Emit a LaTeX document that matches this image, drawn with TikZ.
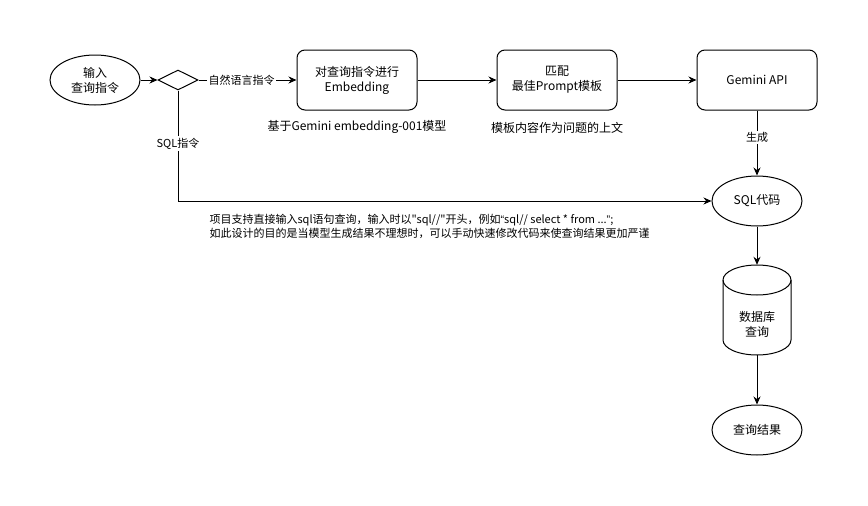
\documentclass[tikz,border=0pt]{standalone}
\usepackage{fontspec}
\newfontfamily\cjkf{Noto Sans CJK SC}
\newfontfamily\latf{Liberation Sans}
\usetikzlibrary{shapes.geometric,arrows.meta}
\begin{document}
\begin{tikzpicture}[x=1pt,y=-1pt,
  every node/.style={font=\cjkf\fontsize{12}{15}\selectfont},
  box/.style={draw, rounded corners=8pt, minimum width=120pt, minimum height=60pt, align=center, line width=1pt},
  oval/.style={draw, ellipse, minimum width=90pt, minimum height=50pt, inner sep=0pt, align=center, line width=1pt},
  lbl/.style={fill=white, font=\cjkf\fontsize{11}{13}\selectfont, inner sep=1.5pt},
  note/.style={font=\cjkf\fontsize{12}{14}\selectfont},
  arr/.style={-{Stealth[length=8pt,width=7pt]}, line width=1pt},
  ]
\useasboundingbox[fill=white] (0,0) rectangle (868,506);

\node[oval] (in) at (95,80) {输入\\查询指令};
\node[diamond, draw, minimum width=40pt, minimum height=20pt, inner sep=0pt, line width=1pt] (dec) at (178,80) {};
\node[box] (emb) at (357,80) {对查询指令进行\\Embedding};
\node[box] (match) at (557,80) {匹配\\最佳Prompt模板};
\node[box] (api) at (757,80) {Gemini API};
\node[oval] (sql) at (757,201) {SQL代码};
\node[minimum width=68pt, minimum height=90pt, inner sep=0pt] (db) at (757,310) {};
\draw[line width=1pt] (723,280) -- (723,340)
  arc[start angle=180, end angle=360, x radius=34pt, y radius=15pt]
  -- (791,280)
  arc[start angle=0, end angle=180, x radius=34pt, y radius=15pt] -- cycle;
\draw[line width=1pt] (723,280) arc[start angle=180, end angle=360, x radius=34pt, y radius=15pt];
\node[align=center] (dbt) at (757,324) {数据库\\查询};
\node[oval] (res) at (757,430) {查询结果};

\node[note] (n1) at (357,127) {基于Gemini embedding-001模型};
\node[note] (n2) at (557,128) {模板内容作为问题的上文};
\node[anchor=west, align=left, font=\cjkf\fontsize{11}{14}\selectfont] (cm) at (206,226)
  {项目支持直接输入sql语句查询，输入时以"sql//"开头，例如{\latf “}sql// select * from ...{\latf ”};\\
   如此设计的目的是当模型生成结果不理想时，可以手动快速修改代码来使查询结果更加严谨};

\draw[arr] (in) -- (dec);
\draw[arr] (dec) -- node[lbl, pos=0.44] {自然语言指令} (emb);
\draw[arr] (emb) -- (match);
\draw[arr] (match) -- (api);
\draw[arr] (api) -- node[lbl, pos=0.42] {生成} (sql);
\draw[arr] (dec.south) |- node[lbl, pos=0.24] {SQL指令} (sql.west);
\draw[arr] (sql) -- (db);
\draw[arr] (db) -- (res);
\end{tikzpicture}
\end{document}
